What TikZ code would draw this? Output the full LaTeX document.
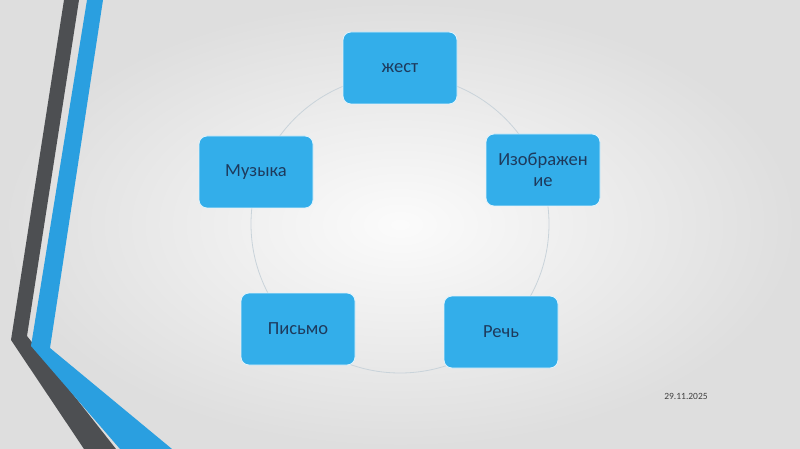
\documentclass[tikz,border=0pt]{standalone}
\usepackage{fontspec}
\setmainfont{Carlito}
\usepackage{xcolor}
\usepackage{tikz}
\usetikzlibrary{positioning}

\definecolor{boxblue}{HTML}{33AEEA}
\definecolor{stripeblue}{HTML}{2A9FE0}
\definecolor{stripegray}{HTML}{4D4F52}
\definecolor{textnavy}{HTML}{1E3A5C}
\definecolor{ringgray}{HTML}{C9D3DA}

\tikzset{
  topic/.style={draw=white!85!boxblue, line width=0.8pt, fill=boxblue,
    rounded corners=8pt, minimum width=114pt, minimum height=72pt,
    align=center, text=textnavy, font=\fontsize{18.5}{21}\selectfont},
}

\begin{document}
\begin{tikzpicture}[x=1pt,y=-1pt]
            \shade[inner color=white!97!gray, outer color=gray!26!white]
                (0,0) rectangle (800,449);
            \useasboundingbox (0,0) rectangle (800,449);

            % left stripes
            \fill[stripegray] (64,0) -- (79,0) -- (27,336) -- (116,449) -- (84,449) -- (11,340) -- cycle;
            \fill[stripeblue] (87,0) -- (103,0) -- (50,348) -- (172,449) -- (120,449) -- (31,346) -- cycle;

            \coordinate (c) at (400,224);
            \draw[ringgray, line width=0.8pt] (c) circle (149);

            \node[topic] (zh) at (400,68) {жест};
            \node[topic] (izo) at (543,170) {Изображен\\ие};
            \node[topic] (rech) at (501,332) {Речь};
            \node[topic] (pis) at (298,329) {Письмо};
            \node[topic] (muz) at (256,172) {Музыка};

            \node[text=black!75, font=\fontsize{9.5}{11}\selectfont] (date) at (686,396) {29.11.2025};
        \end{tikzpicture}
\end{document}
